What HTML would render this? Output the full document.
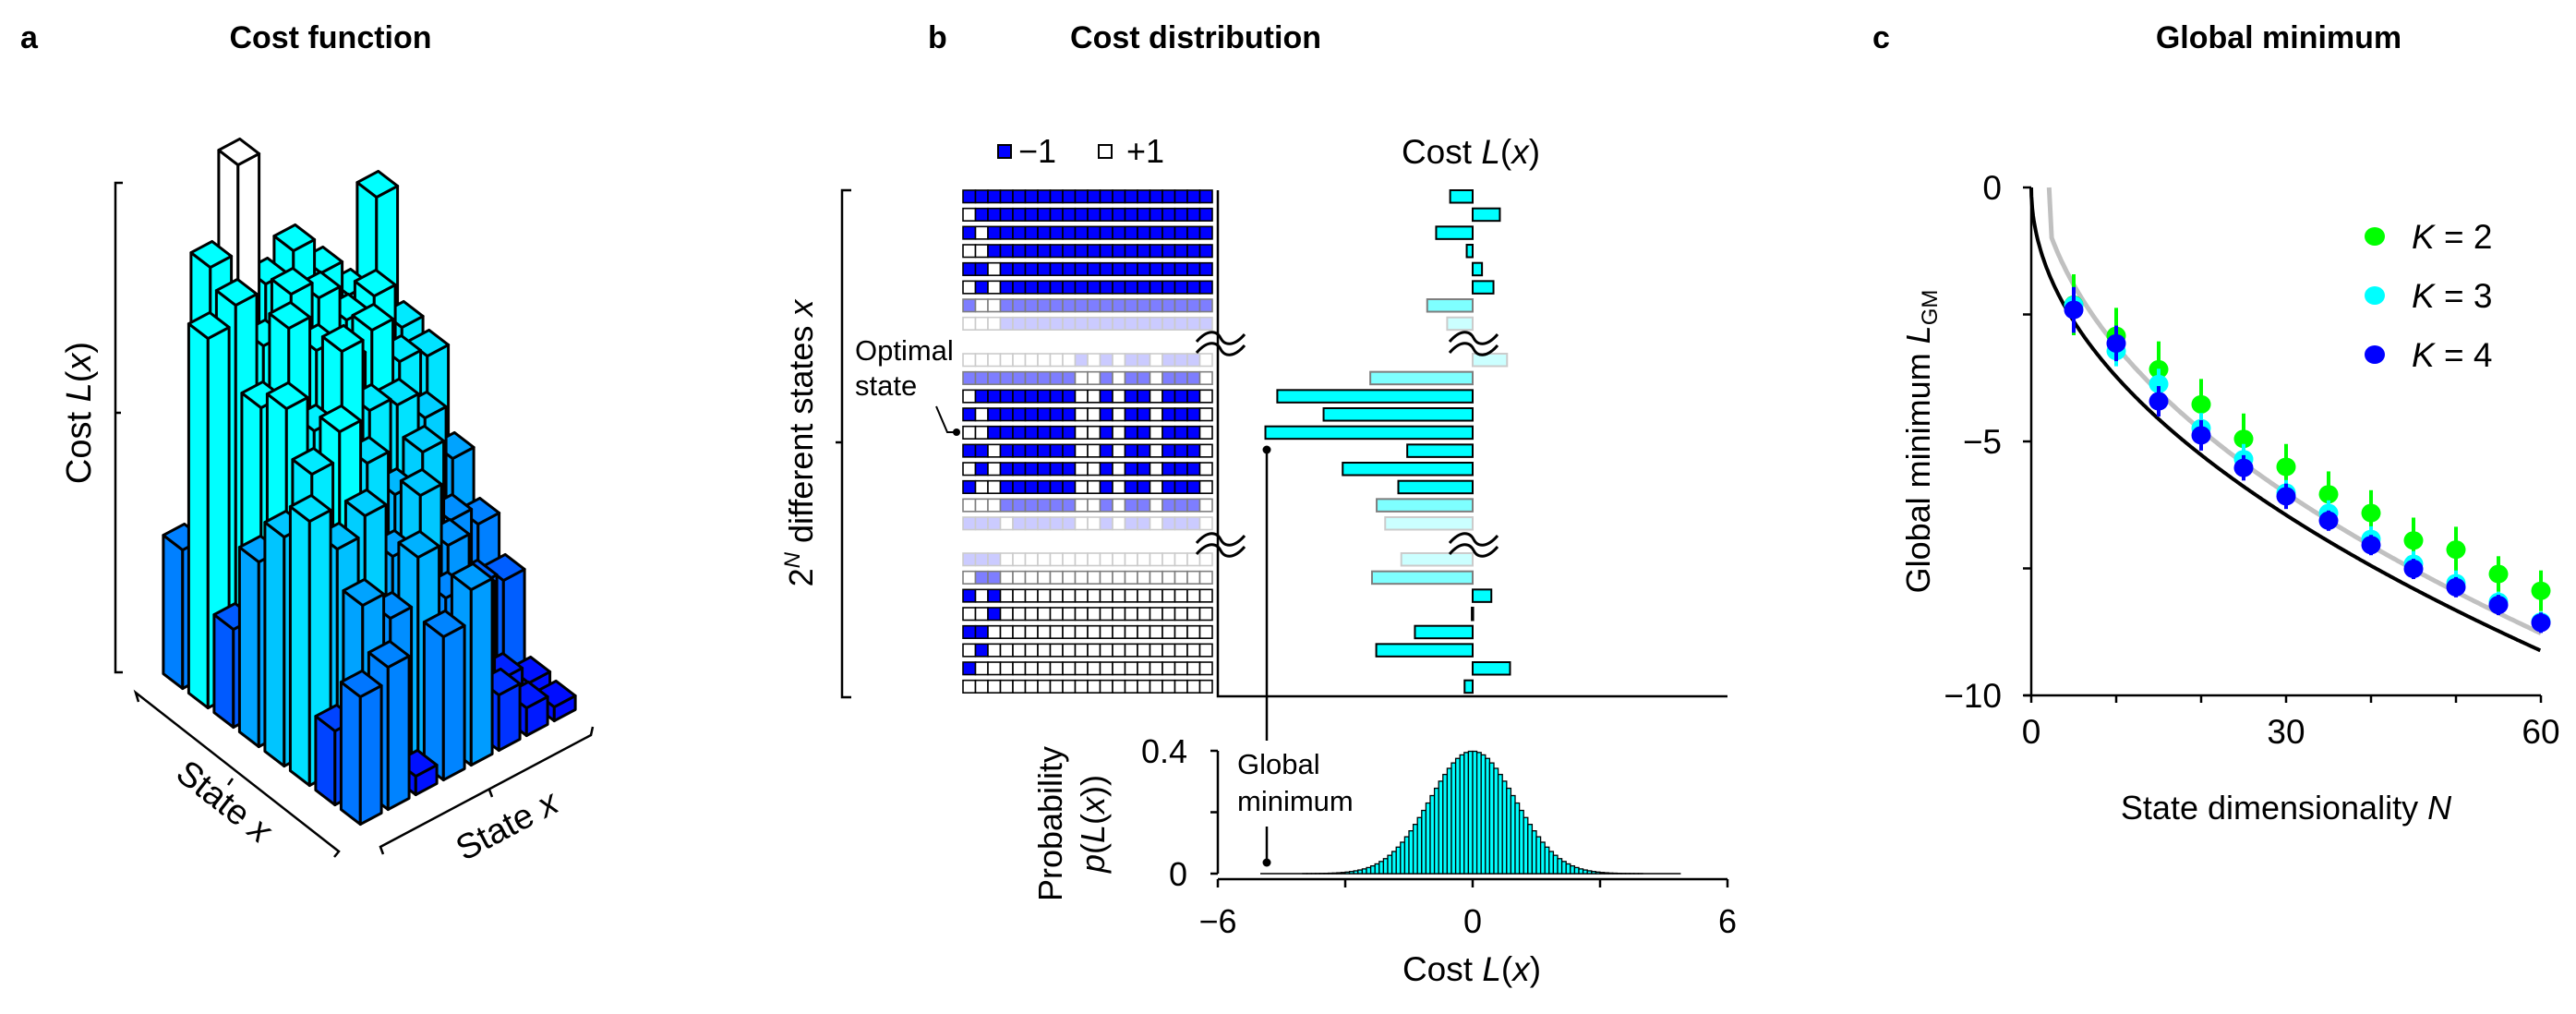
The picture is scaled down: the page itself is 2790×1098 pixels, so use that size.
<!DOCTYPE html>
<html><head><meta charset="utf-8">
<style>
html,body{margin:0;padding:0;background:#fff;}
svg{display:block;font-family:"Liberation Sans",Arial,sans-serif;}
</style></head>
<body>
<svg id="fig" width="2790" height="1098" viewBox="0 0 2790 1098" xmlns="http://www.w3.org/2000/svg">
  <!-- Panel titles -->
  <text x="22" y="52" font-size="34" font-weight="bold">a</text>
  <text x="358" y="52" font-size="34" font-weight="bold" text-anchor="middle">Cost function</text>
  <text x="1005" y="52" font-size="34" font-weight="bold">b</text>
  <text x="1295" y="52" font-size="34" font-weight="bold" text-anchor="middle">Cost distribution</text>
  <text x="2028" y="52" font-size="34" font-weight="bold">c</text>
  <text x="2468" y="52" font-size="34" font-weight="bold" text-anchor="middle">Global minimum</text>

  <!-- Panel a axes -->
  <g id="panelA">
    <path d="M133,198 H125 V728 H133 M125,447 H131" fill="none" stroke="#000" stroke-width="2.5"/>
    <text transform="translate(98,447) rotate(-90)" font-size="38" text-anchor="middle">Cost <tspan font-style="italic">L</tspan>(<tspan font-style="italic">x</tspan>)</text>
    <path d="M150,760 L147,750 L367,922 L362,928 M252,843 L247,850" fill="none" stroke="#000" stroke-width="2.5"/>
    <path d="M415,925 L412,917 L640,796 L642,787 M530,855 L533,863" fill="none" stroke="#000" stroke-width="2.5"/>
    <text transform="translate(235,878) rotate(38)" font-size="38" text-anchor="middle">State <tspan font-style="italic">x</tspan></text>
    <text transform="translate(555,905) rotate(-28)" font-size="38" text-anchor="middle">State <tspan font-style="italic">x</tspan></text>
    <g id="bars3d"></g>
  </g>

  <!-- Panel b -->
  <g id="panelB">
    <rect x="1081" y="157" width="14" height="14" fill="#0000ff" stroke="#000" stroke-width="2"/>
    <text x="1103" y="176" font-size="36">−1</text>
    <rect x="1190" y="157" width="14" height="14" fill="#fff" stroke="#000" stroke-width="2"/>
    <text x="1220" y="176" font-size="36">+1</text>
    <text x="1593" y="177" font-size="37" text-anchor="middle">Cost <tspan font-style="italic">L</tspan>(<tspan font-style="italic">x</tspan>)</text>
    <path d="M922,206 H912 V755 H922 M912,479 H905" fill="none" stroke="#000" stroke-width="2.5"/>
    <text transform="translate(880,480) rotate(-90)" font-size="36" text-anchor="middle">2<tspan font-size="24" dy="-14" font-style="italic">N</tspan><tspan dy="14"> different states </tspan><tspan font-style="italic">x</tspan></text>
    <text x="926" y="390" font-size="31">Optimal</text>
    <text x="926" y="428" font-size="31">state</text>
    <path d="M1014,440 L1026,468 H1036" fill="none" stroke="#000" stroke-width="2"/>
    <circle cx="1036" cy="468" r="4" fill="#000"/>
    <g id="grid"></g>
    <g id="costbars"></g>
    <path d="M1319,206 V754 H1871" fill="none" stroke="#000" stroke-width="2.5"/>
    <g id="breaks" fill="none" stroke="#000" stroke-width="3"></g>
    <g id="hist"></g>
    <path d="M1372,487 V802 M1372,895 V934" stroke="#000" stroke-width="2.5"/>
    <circle cx="1372" cy="487" r="4.5" fill="#000"/>
    <circle cx="1372" cy="934" r="4.5" fill="#000"/>
    <text x="1340" y="838" font-size="31">Global</text>
    <text x="1340" y="878" font-size="31">minimum</text>
    <text transform="translate(1150,892) rotate(-90)" font-size="36" text-anchor="middle">Probability</text>
    <text transform="translate(1196,892) rotate(-90)" font-size="36" text-anchor="middle"><tspan font-style="italic">p</tspan>(<tspan font-style="italic">L</tspan>(<tspan font-style="italic">x</tspan>))</text>
    <text x="1594" y="1062" font-size="37" text-anchor="middle">Cost <tspan font-style="italic">L</tspan>(<tspan font-style="italic">x</tspan>)</text>
  </g>

  <!-- Panel c -->
  <g id="panelC">
    <text transform="translate(2090,478) rotate(-90)" font-size="36" text-anchor="middle">Global minimum <tspan font-style="italic">L</tspan><tspan font-size="24" dy="8">GM</tspan></text>
    <text x="2476" y="887" font-size="36" text-anchor="middle">State dimensionality <tspan font-style="italic">N</tspan></text>
    <g id="caxes"></g>
    <g id="ccurves"></g>
    <g id="cpoints"></g>
    <g id="clegend"></g>
  </g>
</svg>
<script>
const NS="http://www.w3.org/2000/svg";
function mk(tag,attrs,parent){const e=document.createElementNS(NS,tag);for(const k in attrs)e.setAttribute(k,attrs[k]);if(parent)parent.appendChild(e);return e;}

/* ---------- Panel a data: bar heights (px) on 8x8 grid ---------- */
const heightRow0=[138,154,20,155,190,60,30,15];
const heightRow1=[80,200,170,220,160,150,40,20];
const heightRow2=[286,240,260,200,250,180,120,110];
const heightRow3=[248,300,330,280,230,260,170,150];
const heightRow4=[200,350,310,380,300,290,260,200];
const heightRow5=[106,330,400,360,330,350,300,290];
const heightRow6=[400,420,360,400,380,340,350,300];
const heightRow7=[150,440,535,390,410,370,330,420];
const heights3d=[heightRow0,heightRow1,heightRow2,heightRow3,heightRow4,heightRow5,heightRow6,heightRow7];

/* ---------- Panel b data ---------- */
const group1Rows=["11111111111111111111","01111111111111111111","10111111111111111111","00111111111111111111","11011111111111111111","01011111111111111111","10011111111111111111","00011111111111111111"];
const group1Alpha=[1,1,1,1,1,1,0.5,0.2];
const group1Cost=[-0.53,0.64,-0.86,-0.14,0.22,0.49,-1.07,-0.60];
const group2Rows=["00000000010101101110","11111111100101101110","01111111100101101110","10111111100101101110","00111111100101101110","11011111100101101110","01011111100101101110","10011111100101101110","00011111100101101110","11101111100101101110"];
const group2Alpha=[0.2,0.5,1,1,1,1,1,1,0.5,0.2];
const group2Cost=[0.81,-2.41,-4.60,-3.51,-4.88,-1.54,-3.06,-1.75,-2.26,-2.06];
const group3Rows=["11100000000000000000","01100000000000000000","10100000000000000000","00100000000000000000","11000000000000000000","01000000000000000000","10000000000000000000","00000000000000000000"];
const group3Alpha=[0.2,0.5,1,1,1,1,1,1];
const group3Cost=[-1.68,-2.37,0.44,-0.02,-1.36,-2.27,0.88,-0.19];
const histStart=-4.0, histBinWidth=0.1;
const histValues=[0.0002,0.0002,0.0004,0.0005,0.0007,0.0010,0.0015,0.0020,0.0028,0.0038,0.0051,0.0069,0.0091,0.0119,0.0154,0.0198,0.0252,0.0317,0.0396,0.0488,0.0596,0.0721,0.0863,0.1023,0.1200,0.1394,0.1604,0.1826,0.2059,0.2299,0.2541,0.2780,0.3011,0.3230,0.3429,0.3605,0.3752,0.3867,0.3945,0.3984,
0.3984,0.3945,0.3867,0.3752,0.3605,0.3429,0.3230,0.3011,0.2780,0.2541,0.2299,0.2059,0.1826,0.1604,0.1394,0.1200,0.1023,0.0863,0.0721,0.0596,0.0488,0.0396,0.0317,0.0252,0.0198,0.0154,0.0119,0.0091,0.0069,0.0051,0.0038,0.0028,0.0020,0.0015,0.0010,0.0007,0.0005,0.0004,0.0002,0.0002];
const histXTicks=[-6,-3,0,3,6];
const histXTickLabels=["−6","","0","","6"];
const histYTicks=[0,0.2,0.4];
const histYTickLabels=["0","","0.4"];

/* ---------- Panel c data ---------- */
const dimsN=[5,10,15,20,25,30,35,40,45,50,55,60];
const k2Values=[-2.31,-2.92,-3.58,-4.27,-4.95,-5.50,-6.04,-6.41,-6.95,-7.13,-7.61,-7.94];
const k3Values=[-2.32,-3.22,-3.87,-4.74,-5.35,-6.01,-6.41,-6.92,-7.41,-7.79,-8.16,-8.55];
const k4Values=[-2.41,-3.07,-4.21,-4.88,-5.52,-6.08,-6.56,-7.04,-7.51,-7.87,-8.22,-8.57];
const k2Err=[0.6,0.55,0.55,0.5,0.5,0.45,0.45,0.45,0.45,0.45,0.35,0.4];
const k3Err=[0.35,0.3,0.3,0.3,0.3,0.25,0.25,0.25,0.25,0.25,0.2,0.2];
const k4Err=[0.45,0.35,0.3,0.3,0.25,0.25,0.2,0.2,0.2,0.2,0.2,0.2];
const cXTicks=[0,10,20,30,40,50,60];
const cXTickLabels=["0","","","30","","","60"];
const cYTicks=[0,-2.5,-5,-7.5,-10];
const cYTickLabels=["0","","−5","","−10"];
const legendLabels=["2","3","4"];

/* ================= Panel a ================= */
(function(){
  const g=document.getElementById('bars3d');
  const O=[390,897], L=[-27.5,-21], R=[30,-16];
  function P(a,b,h){return [O[0]+a*L[0]+b*R[0], O[1]+a*L[1]+b*R[1]-h];}
  function col(h){
    if(h>500) return '#ffffff';
    let gch;
    if(h<150) gch=Math.round(h/150*128); else gch=Math.min(255,Math.round(128+(h-150)*127/180));
    return 'rgb(0,'+gch+',255)';
  }
  const cells=[];
  for(let i=0;i<heights3d.length;i++)for(let j=0;j<heights3d[i].length;j++)cells.push([i,j]);
  cells.sort((p,q)=>(q[0]+q[1])-(p[0]+p[1]) || (q[0]-p[0]));
  const pts=a=>a.map(p=>p[0].toFixed(1)+','+p[1].toFixed(1)).join(' ');
  cells.forEach(([i,j])=>{
    const h=heights3d[i][j];
    const c=col(h);
    const a0=i+0.12,a1=i+0.88,b0=j+0.12,b1=j+0.88;
    const bar=mk('g',{},g);
    
    
    const st={stroke:'#000','stroke-width':3,'stroke-linejoin':'round'};
    mk('polygon',Object.assign({points:pts([P(a0,b0,0),P(a1,b0,0),P(a1,b0,h),P(a0,b0,h)]),fill:c},st),bar);
    mk('polygon',Object.assign({points:pts([P(a0,b0,0),P(a0,b1,0),P(a0,b1,h),P(a0,b0,h)]),fill:c},st),bar);
    mk('polygon',Object.assign({points:pts([P(a0,b0,h),P(a1,b0,h),P(a1,b1,h),P(a0,b1,h)]),fill:c},st),bar);
  });
})();

/* ================= Panel b ================= */
(function(){
  const grid=document.getElementById('grid');
  const cb=document.getElementById('costbars');
  const gx0=1043, cw=13.5, rh=13.5, pitch=19.67;
  const zeroX=1595, pxPerUnit=46;
  const costX=v=>zeroX+v*pxPerUnit;
  const groups=[[group1Rows,group1Alpha,group1Cost,206],[group2Rows,group2Alpha,group2Cost,383],[group3Rows,group3Alpha,group3Cost,599]];
  groups.forEach(([rows,alphas,costs,y0])=>{
    rows.forEach((r,ri)=>{
      const y=y0+ri*pitch;
      const rg=mk('g',{opacity:alphas[ri]},grid);
      
      
      for(let c=0;c<r.length;c++){
        const cell=mk('rect',{x:gx0+c*cw,y:y,width:cw,height:rh,fill:r[c]==='1'?'#0000ff':'#ffffff',stroke:'#000','stroke-width':1.6},rg);
        
        
      }
      const v=costs[ri];
      const x1=Math.min(costX(0),costX(v)), w=Math.max(1.5,Math.abs(costX(v)-costX(0)));
      const b=mk('rect',{x:x1,y:y,width:w,height:rh,fill:'#00ffff',stroke:'#000','stroke-width':2,opacity:alphas[ri]},cb);
      
      
    });
  });
  // break marks
  const br=document.getElementById('breaks');
  [[1322,372],[1322,590],[1596,372],[1596,590]].forEach(([cx,cy])=>{
    for(const dy of [-6,6]){
      const p=mk('path',{d:`M${cx-26},${cy+dy+4} C${cx-14},${cy+dy-10} ${cx-4},${cy+dy-8} ${cx},${cy+dy} S${cx+14},${cy+dy+10} ${cx+26},${cy+dy-4}`},br);
      
      
    }
  });
  // histogram
  const hg=document.getElementById('hist');
  const baseY=946, pxPerProb=332.5;
  const hx=v=>zeroX+v*pxPerUnit, hy=p=>baseY-p*pxPerProb;
  mk('line',{x1:hx(-5),x2:hx(4.9),y1:baseY,y2:baseY,stroke:'#000','stroke-width':1.5},hg);
  histValues.forEach((p,k)=>{
    const x=hx(histStart+k*histBinWidth);
    const r=mk('rect',{x:x,y:hy(p),width:histBinWidth*pxPerUnit,height:baseY-hy(p),fill:'#00ffff',stroke:'#000','stroke-width':1.3},hg);
    
    
  });
  // hist axes
  mk('path',{d:`M${hx(-6)},952 H${hx(6)}`,stroke:'#000','stroke-width':2.5,fill:'none'},hg);
  histXTicks.forEach((t,k)=>{
    mk('line',{x1:hx(t),x2:hx(t),y1:952,y2:961,stroke:'#000','stroke-width':2.5},hg);
    if(histXTickLabels[k]){const tx=mk('text',{x:hx(t),y:1010,'font-size':36,'text-anchor':'middle'},hg);tx.textContent=histXTickLabels[k];
      }
  });
  mk('path',{d:`M1319,${hy(0.4)} V${hy(0)}`,stroke:'#000','stroke-width':2.5,fill:'none'},hg);
  histYTicks.forEach((t,k)=>{
    mk('line',{x1:1311,x2:1319,y1:hy(t),y2:hy(t),stroke:'#000','stroke-width':2.5},hg);
    if(histYTickLabels[k]){const tx=mk('text',{x:1286,y:hy(t)+13,'font-size':36,'text-anchor':'end'},hg);tx.textContent=histYTickLabels[k];
      }
  });
})();

/* ================= Panel c ================= */
(function(){
  const X0=2200, pxN=9.2, Y0=203, pxV=55;
  const xs=n=>X0+n*pxN, ys=v=>Y0-v*pxV;
  const ax=document.getElementById('caxes');
  mk('path',{d:`M${xs(0)},${ys(0)} V${ys(-10)} M2192,${ys(-10)} H${xs(60)}`,stroke:'#000','stroke-width':2.5,fill:'none'},ax);
  cYTicks.forEach((t,k)=>{
    mk('line',{x1:2191,x2:X0,y1:ys(t),y2:ys(t),stroke:'#000','stroke-width':2.5},ax);
    if(cYTickLabels[k]){const tx=mk('text',{x:2168,y:ys(t)+13,'font-size':37,'text-anchor':'end'},ax);tx.textContent=cYTickLabels[k];
      }
  });
  cXTicks.forEach((t,k)=>{
    mk('line',{x1:xs(t),x2:xs(t),y1:ys(-10),y2:ys(-10)+8,stroke:'#000','stroke-width':2.5},ax);
    if(cXTickLabels[k]){const tx=mk('text',{x:xs(t),y:ys(-10)+52,'font-size':37,'text-anchor':'middle'},ax);tx.textContent=cXTickLabels[k];
      }
  });
  // theory curves
  const cg=document.getElementById('ccurves');
  let dB='',dG='';
  for(let n=0.02;n<=60.001;n+=0.1){
    const v=-Math.sqrt(2*n*Math.LN2);
    dB+=(dB?'L':'M')+xs(n).toFixed(1)+','+ys(v).toFixed(1);
  }
  dB='M'+xs(0)+','+ys(0)+dB.replace(/^M/,'L');
  dG='M'+xs(2.1).toFixed(1)+','+ys(0).toFixed(1);
  for(let n=2.4;n<=60.001;n+=0.2){
    const s=Math.sqrt(2*n*Math.LN2);
    let v=-(s-0.5*Math.log(4*Math.PI*n*Math.LN2)/s);
    if(v>0)v=0;
    dG+='L'+xs(n).toFixed(1)+','+ys(v).toFixed(1);
  }
  const gl=mk('path',{d:dG,stroke:'#c0c0c0','stroke-width':5,fill:'none'},cg);
  
  const bl=mk('path',{d:dB,stroke:'#000','stroke-width':4,fill:'none'},cg);
  
  // points
  const pg=document.getElementById('cpoints');
  const series=[[k2Values,k2Err,'#00ff00'],[k3Values,k3Err,'#00ffff'],[k4Values,k4Err,'#0000ff']];
  series.forEach(([vals,errs,color],si)=>{
    const sg=mk('g',{},pg);
    
    
    vals.forEach((v,k)=>{
      const x=xs(dimsN[k]);
      const eb=mk('line',{x1:x,x2:x,y1:ys(v+errs[k]),y2:ys(v-errs[k]),stroke:color,'stroke-width':4},sg);
      
      const c=mk('ellipse',{cx:x,cy:ys(v),rx:10.5,ry:10,fill:color},sg);
      
    });
  });
  // legend
  const lg=document.getElementById('clegend');
  series.forEach(([v,e,color],si)=>{
    const y=256+si*64;
    const it=mk('g',{},lg);
    
    
    mk('ellipse',{cx:2572,cy:y,rx:11,ry:10,fill:color},it);
    const t=mk('text',{x:2612,y:y+13,'font-size':37},it);
    t.innerHTML='<tspan font-style="italic">K</tspan> = '+legendLabels[si];
  });
})();
</script>
</body></html>
